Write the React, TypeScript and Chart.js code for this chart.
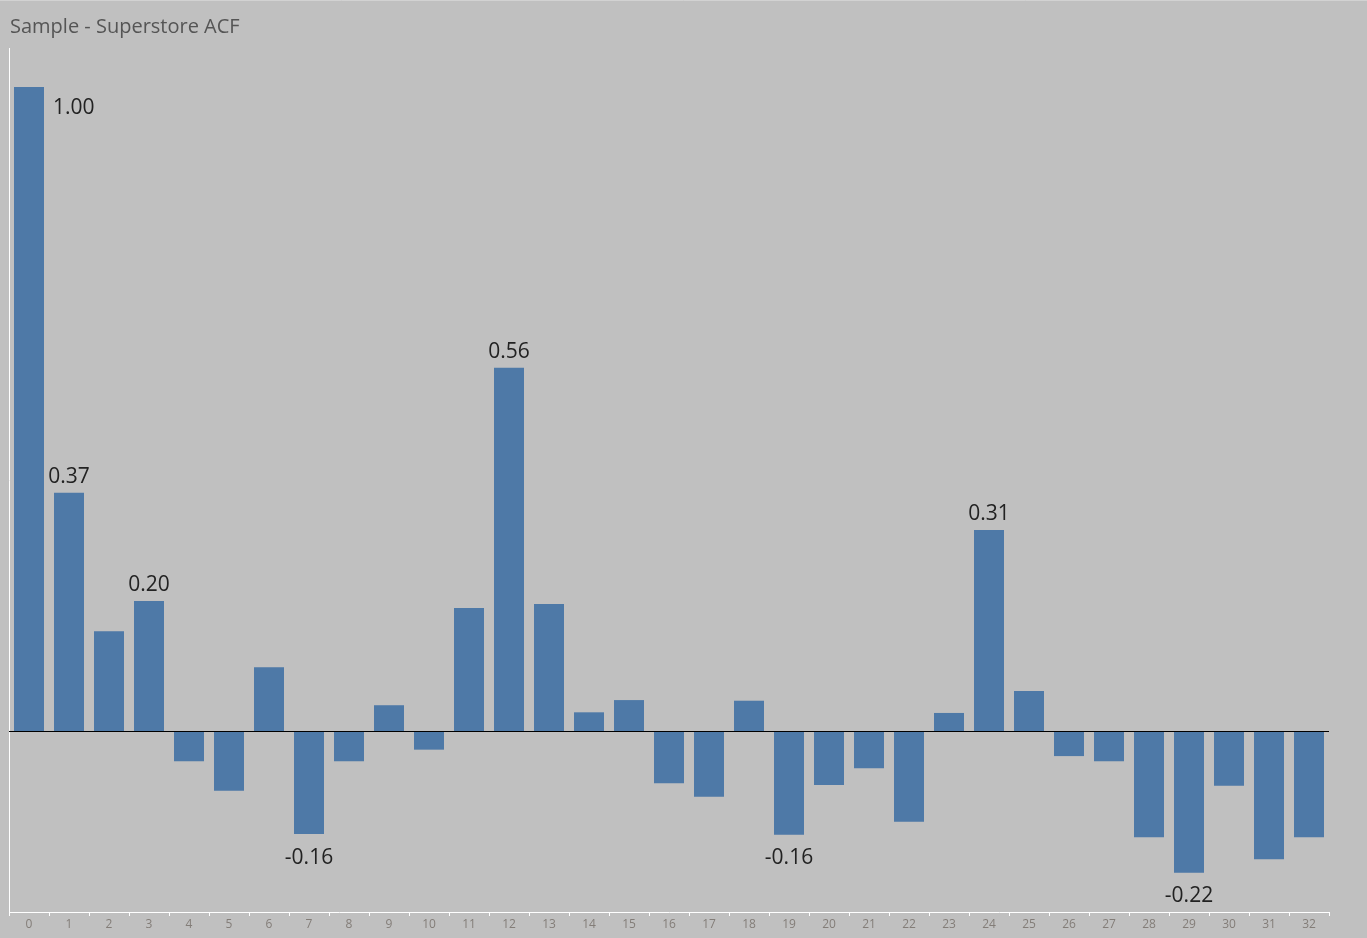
import React, { useEffect, useRef } from "react";
import { Chart, registerables } from "chart.js";

Chart.register(...registerables);

const TITLE = "Sample - Superstore ACF";
const lags: string[] = Array.from({ length: 33 }, (_, i) => String(i));
const acfValues: number[] = [
  1.0, 0.37, 0.155, 0.202, -0.047, -0.093, 0.099, -0.16, -0.047, 0.04,
  -0.029, 0.191, 0.564, 0.197, 0.029, 0.048, -0.081, -0.102, 0.047, -0.161,
  -0.084, -0.058, -0.141, 0.028, 0.312, 0.062, -0.039, -0.047, -0.165, -0.22,
  -0.085, -0.199, -0.165,
];
// indices of bars that carry a value label
const labelledLags: number[] = [0, 1, 3, 7, 12, 19, 24, 29];

const BG = "#c0c0c0";
const BAR = "#4e79a7";

const overlayPlugin = {
  id: "acfOverlay",
  beforeDraw(chart: any) {
    const { ctx, chartArea } = chart;
    ctx.save();
    ctx.fillStyle = BG;
    ctx.fillRect(0, 0, chart.width, chart.height);
    ctx.strokeStyle = "#d2d2d2";
    ctx.lineWidth = 1;
    ctx.beginPath();
    ctx.moveTo(0, 0.5);
    ctx.lineTo(chart.width, 0.5);
    ctx.stroke();
    // title
    ctx.fillStyle = "#555555";
    ctx.font = '20px "Open Sans", "Noto Sans", sans-serif';
    ctx.textBaseline = "middle";
    ctx.textAlign = "left";
    ctx.fillText(TITLE, 10, 27);
    // axes (white)
    const x = chart.scales.x;
    ctx.strokeStyle = "#ffffff";
    ctx.lineWidth = 1;
    ctx.beginPath();
    ctx.moveTo(chartArea.left + 0.5, chartArea.top);
    ctx.lineTo(chartArea.left + 0.5, chartArea.bottom + 0.5);
    ctx.lineTo(chartArea.right + 0.5, chartArea.bottom + 0.5);
    ctx.stroke();
    const half = (x.getPixelForValue(1) - x.getPixelForValue(0)) / 2;
    ctx.beginPath();
    for (let i = 0; i <= lags.length; i++) {
      const px = Math.round(x.getPixelForValue(i) - half) + 0.5;
      ctx.moveTo(px, chartArea.bottom);
      ctx.lineTo(px, chartArea.bottom + 4);
    }
    ctx.stroke();
    // tick labels
    ctx.fillStyle = "#837d78";
    ctx.font = '12px "Open Sans", "Noto Sans", sans-serif';
    ctx.textAlign = "center";
    ctx.textBaseline = "middle";
    lags.forEach((l, i) => {
      ctx.fillText(l, x.getPixelForValue(i), chartArea.bottom + 13);
    });
    ctx.restore();
  },
  afterDatasetsDraw(chart: any) {
    const { ctx, chartArea } = chart;
    const y = chart.scales.y;
    const zero = Math.round(y.getPixelForValue(0)) + 0.5;
    ctx.save();
    ctx.strokeStyle = "#000000";
    ctx.lineWidth = 1;
    ctx.beginPath();
    ctx.moveTo(chartArea.left, zero);
    ctx.lineTo(chartArea.right, zero);
    ctx.stroke();
    const meta = chart.getDatasetMeta(0);
    ctx.fillStyle = "#222222";
    ctx.font = '21px "Open Sans", "Noto Sans", sans-serif';
    labelledLags.forEach((i) => {
      const bar = meta.data[i];
      const v = acfValues[i];
      const txt = v.toFixed(2);
      const top = y.getPixelForValue(v);
      if (top - 40 < chartArea.top) {
        ctx.textAlign = "left";
        ctx.textBaseline = "middle";
        ctx.fillText(txt, bar.x + bar.width / 2 + 9, top + 21);
      } else if (v >= 0) {
        ctx.textAlign = "center";
        ctx.textBaseline = "alphabetic";
        ctx.fillText(txt, bar.x, top - 10);
      } else {
        ctx.textAlign = "center";
        ctx.textBaseline = "top";
        ctx.fillText(txt, bar.x, top + 13);
      }
    });
    ctx.restore();
  },
};

export default function App() {
  const ref = useRef<HTMLCanvasElement | null>(null);
  useEffect(() => {
    document.body.style.margin = "0";
    document.body.style.background = BG;
    const canvas = ref.current!;
    const chart = new Chart(canvas, {
      type: "bar",
      data: {
        labels: lags,
        datasets: [
          {
            data: acfValues,
            backgroundColor: BAR,
            borderWidth: 0,
            barPercentage: 0.75,
            categoryPercentage: 1,
          },
        ],
      },
      options: {
        animation: false,
        responsive: false,
        maintainAspectRatio: false,
        layout: { padding: { left: 9, right: 38, top: 48, bottom: 26 } },
        plugins: {
          legend: { display: false },
          title: { display: false },
          tooltip: { enabled: false },
        },
        scales: {
          x: { display: false, offset: true },
          y: { display: false, min: -0.2811, max: 1.0606 },
        },
      },
      plugins: [overlayPlugin],
    });
    return () => chart.destroy();
  }, []);
  return (
    <div style={{ width: 1367, height: 938, background: BG }}>
      <canvas ref={ref} width={1367} height={938} style={{ display: "block" }} />
    </div>
  );
}
